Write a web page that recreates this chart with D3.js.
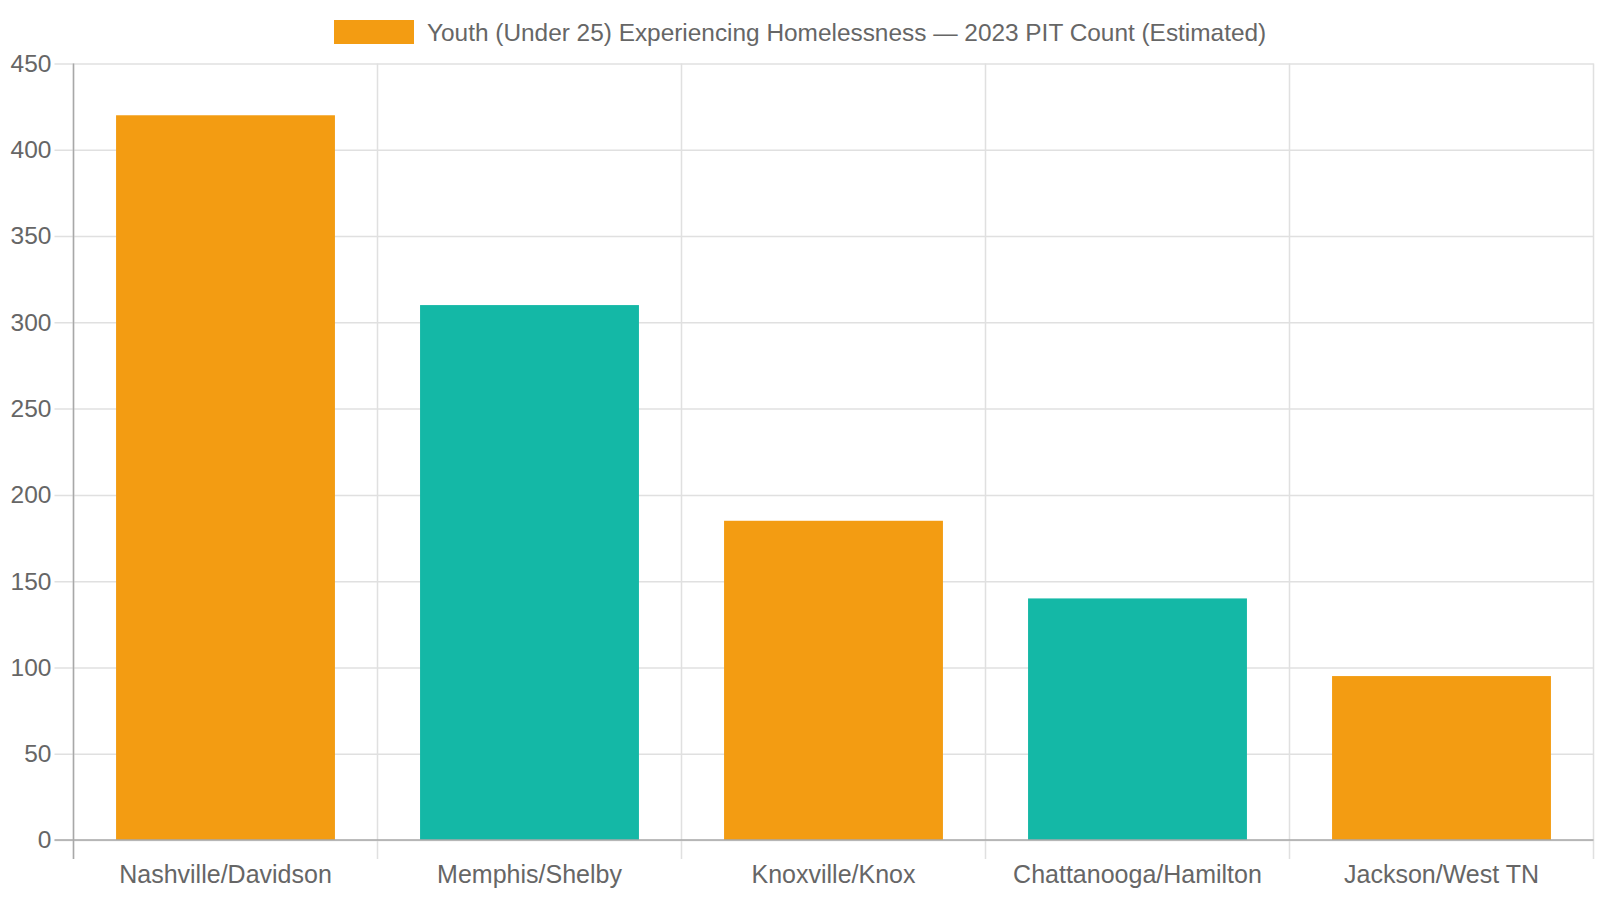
<!DOCTYPE html>
<html>
<head>
<meta charset="utf-8">
<script src="https://cdn.jsdelivr.net/npm/d3@7"></script>
<style>
  html, body { margin: 0; padding: 0; background: #fff; }
  svg { display: block; font-family: "Liberation Sans", Arial, Helvetica, sans-serif; }
</style>
</head>
<body>
<svg id="chart" width="1600" height="900"></svg>
<script>
// data
const categories = ['Nashville/Davidson', 'Memphis/Shelby', 'Knoxville/Knox', 'Chattanooga/Hamilton', 'Jackson/West TN'];
const youthCounts = [420, 310, 185, 140, 95];
const yTicks = [0, 50, 100, 150, 200, 250, 300, 350, 400, 450];
const seriesLabel = 'Youth (Under 25) Experiencing Homelessness — 2023 PIT Count (Estimated)';

const palette = ['#f39c12', '#14b8a6'];
const textColor = '#666';
const gridColor = '#e0e0e0';
const axisColor = '#a8a8a8';

const svg = d3.select('#chart');
const plot = { left: 73.5, right: 1593.5, top: 63.5, bottom: 840 };

const x = d3.scaleBand()
	.domain(categories)
	.range([plot.left, plot.right])
	.paddingInner(0)
	.paddingOuter(0);

const y = d3.scaleLinear()
	.domain([0, 450])
	.range([plot.bottom, plot.top]);

// horizontal grid + y ticks
const yAxis = d3.axisLeft(y)
	.tickValues(yTicks)
	.tickSize(-(plot.right - plot.left))
	.tickPadding(0)
	.tickFormat(d3.format('d'));

const gy = svg.append('g')
	.attr('transform', `translate(${plot.left},0)`)
	.call(yAxis);
gy.select('.domain').remove();
gy.selectAll('.tick line')
	.attr('x1', -19)
	.attr('stroke', gridColor)
	.attr('stroke-width', 1.5);
gy.selectAll('.tick text')
	.attr('x', -22)
	.attr('fill', textColor)
	.attr('font-size', 24.5)
	.attr('font-family', '"Liberation Sans", Arial, sans-serif');

// vertical grid lines at category boundaries
const boundaries = categories.map(c => x(c)).concat([plot.right]);
svg.append('g')
	.selectAll('line')
	.data(boundaries)
	.enter()
	.append('line')
	.attr('x1', d => d)
	.attr('x2', d => d)
	.attr('y1', plot.top)
	.attr('y2', plot.bottom + 19)
	.attr('stroke', gridColor)
	.attr('stroke-width', 1.5);

// bars
const barWidth = x.bandwidth() * 0.8 * 0.9;
svg.append('g')
	.selectAll('rect')
	.data(categories)
	.enter()
	.append('rect')
	.attr('x', d => x(d) + (x.bandwidth() - barWidth) / 2)
	.attr('y', (d, i) => y(youthCounts[i]))
	.attr('width', barWidth)
	.attr('height', (d, i) => y(0) - y(youthCounts[i]))
	.attr('fill', (d, i) => palette[i % 2]);

// axis lines
svg.append('line')
	.attr('x1', plot.left).attr('x2', plot.left)
	.attr('y1', plot.top).attr('y2', plot.bottom + 19)
	.attr('stroke', axisColor).attr('stroke-width', 1.5);
svg.append('line')
	.attr('x1', plot.left - 19).attr('x2', plot.right)
	.attr('y1', plot.bottom).attr('y2', plot.bottom)
	.attr('stroke', axisColor).attr('stroke-width', 1.5);

// x labels
const xAxis = d3.axisBottom(x).tickSize(0).tickPadding(0);
const gx = svg.append('g')
	.attr('transform', `translate(0,${plot.bottom})`)
	.call(xAxis);
gx.select('.domain').remove();
gx.selectAll('.tick text')
	.attr('y', 34)
	.attr('dy', '0.35em')
	.attr('fill', textColor)
	.attr('font-size', 25)
	.attr('font-family', '"Liberation Sans", Arial, sans-serif');

// legend
const legend = svg.append('g');
legend.append('rect')
	.attr('x', 334)
	.attr('y', 20)
	.attr('width', 80)
	.attr('height', 24)
	.attr('fill', palette[0]);
legend.append('text')
	.attr('x', 427)
	.attr('y', 32)
	.attr('dy', '0.35em')
	.attr('fill', textColor)
	.attr('font-size', 24.4)
	.text(seriesLabel);
</script>
</body>
</html>
